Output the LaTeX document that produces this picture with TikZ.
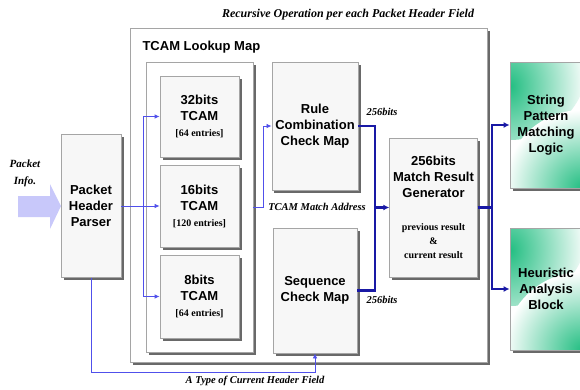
\documentclass[tikz,border=0pt]{standalone}
\usepackage{fontspec}
\setmainfont{Liberation Sans}
\newfontfamily\labelfont{Liberation Serif}
\usetikzlibrary{shadows,arrows.meta}
\definecolor{boxline}{RGB}{165,165,165}
\definecolor{boxfill}{RGB}{247,247,247}
\definecolor{shadowgray}{RGB}{105,105,105}
\definecolor{lightblue}{RGB}{80,80,235}
\definecolor{darkblue}{RGB}{25,25,165}
\definecolor{infoblue}{RGB}{200,200,250}
\definecolor{tealgreen}{RGB}{35,190,130}
\newcommand{\entries}[1]{{\labelfont\fontsize{10}{12}\selectfont #1}}

\begin{document}
\begin{tikzpicture}[x=1pt,y=-1pt,
    every node/.append style={font=\fontsize{13}{16}\selectfont\bfseries, align=center},
    block/.style={draw=boxline, fill=boxfill, line width=0.8pt,
      drop shadow={shadow xshift=2.5pt, shadow yshift=-2.5pt, fill=shadowgray, opacity=1}},
    frame/.style={block, fill=white},
    logic/.style={block, fill=white, path picture={
        \shade[inner color=tealgreen, outer color=white] (path picture bounding box.north west) circle (78pt);
        \shade[inner color=tealgreen, outer color=white] (path picture bounding box.south east) circle (78pt);}},
    note/.style={font=\labelfont\fontsize{10.5}{13}\selectfont\bfseries\itshape},
    thinbus/.style={draw=lightblue, line width=0.8pt, -{Latex[length=5pt,width=4.5pt]}},
    widebus/.style={draw=darkblue, line width=2.4pt}
  ]
  \useasboundingbox (0,0) rectangle (580,389);
  % Frames
  \node[frame, minimum width=357pt, minimum height=334pt] (recursive) at (308.5,195) {};
  \node[note, font=\labelfont\fontsize{12}{14}\selectfont\bfseries\itshape] (recurlabel) at (348,15) {Recursive Operation per each Packet Header Field};
  \node[frame, minimum width=107pt, minimum height=290pt] (lookup) at (199.5,207) {};
  \node[anchor=west] (lookuplabel) at (139,47) {TCAM Lookup Map};
  %
  % TCAM tables
  \node[block, minimum width=79pt, minimum height=81pt] (t32) at (199.5,116.5) {32bits\\TCAM\\\entries{[64 entries]}};
  \node[block, minimum width=79pt, minimum height=82pt] (t16) at (199.5,206) {16bits\\TCAM\\\entries{[120 entries]}};
  \node[block, minimum width=79pt, minimum height=83pt] (t8) at (199.5,296.5) {8bits\\TCAM\\\entries{[64 entries]}};
  %
  % Check maps
  \node[block, minimum width=84pt, minimum height=128pt] (rule) at (315,126) {Rule\\Combination\\Check Map};
  \node[block, minimum width=84pt, minimum height=125pt] (seq) at (315,290.5) {Sequence\\Check Map};
  \node[block, minimum width=83pt, minimum height=139pt] (gen) at (433.5,207.5) {256bits\\Match Result\\Generator\\[17pt]\entries{previous result}\\[-2pt]\entries{\&}\\[-2pt]\entries{current result}};
  %
  % Outside blocks
  \node[block, minimum width=60pt, minimum height=143pt] (parser) at (91,206) {Packet\\Header\\Parser};
  \node[logic, minimum width=72pt, minimum height=126pt] (string) at (546,125) {String\\Pattern\\Matching\\Logic};
  \node[logic, minimum width=72pt, minimum height=122pt] (heur) at (546,289) {Heuristic\\Analysis\\Block};
  %
  % Packet input
  \fill[infoblue] (18,196) -- (50,196) -- (50,184) -- (61,206) -- (50,229) -- (50,217) -- (18,217) -- cycle;
  \node[note, font=\labelfont\fontsize{11}{17}\selectfont\bfseries\itshape] (infolabel) at (25,173) {Packet\\Info.};
  %
  % Header fields into the TCAMs
  \coordinate (fanout) at (143,206);
  \draw[thinbus] (parser.east) -- (t16.west);
  \draw[thinbus, -] (fanout |- t32.west) -- (fanout |- t8.west);
  \draw[thinbus] (fanout |- t32.west) -- (t32.west);
  \draw[thinbus] (fanout |- t8.west) -- (t8.west);
  \draw[thinbus] (lookup.east) -- ++(10,0) |- (rule.west);
  \node[note] (matchlabel) at (317,207) {TCAM Match Address};
  %
  % 256bits results
  \coordinate (merge) at (375,207.5);
  \draw[widebus] (rule.east) -| (merge) |- (seq.east);
  \draw[widebus, -{Latex[length=6pt,width=6pt]}] (merge) -- (gen.west);
  \node[note] (ruleout) at (382,112) {256bits};
  \node[note] (seqout) at (382,300) {256bits};
  \coordinate (split) at (492,207.5);
  \draw[widebus] (gen.east) -- (split);
  \draw[widebus, -{Latex[length=6pt,width=6pt]}] (split) |- (string.west);
  \draw[widebus, -{Latex[length=6pt,width=6pt]}] (split) |- (heur.west);
  %
  % Header type to the sequence map
  \coordinate (typeturn) at (315,372);
  \draw[thinbus] (parser.south) |- (typeturn) -- (seq.south);
  \node[note] (typelabel) at (255,381) {A Type of Current Header Field};
\end{tikzpicture}
\end{document}
